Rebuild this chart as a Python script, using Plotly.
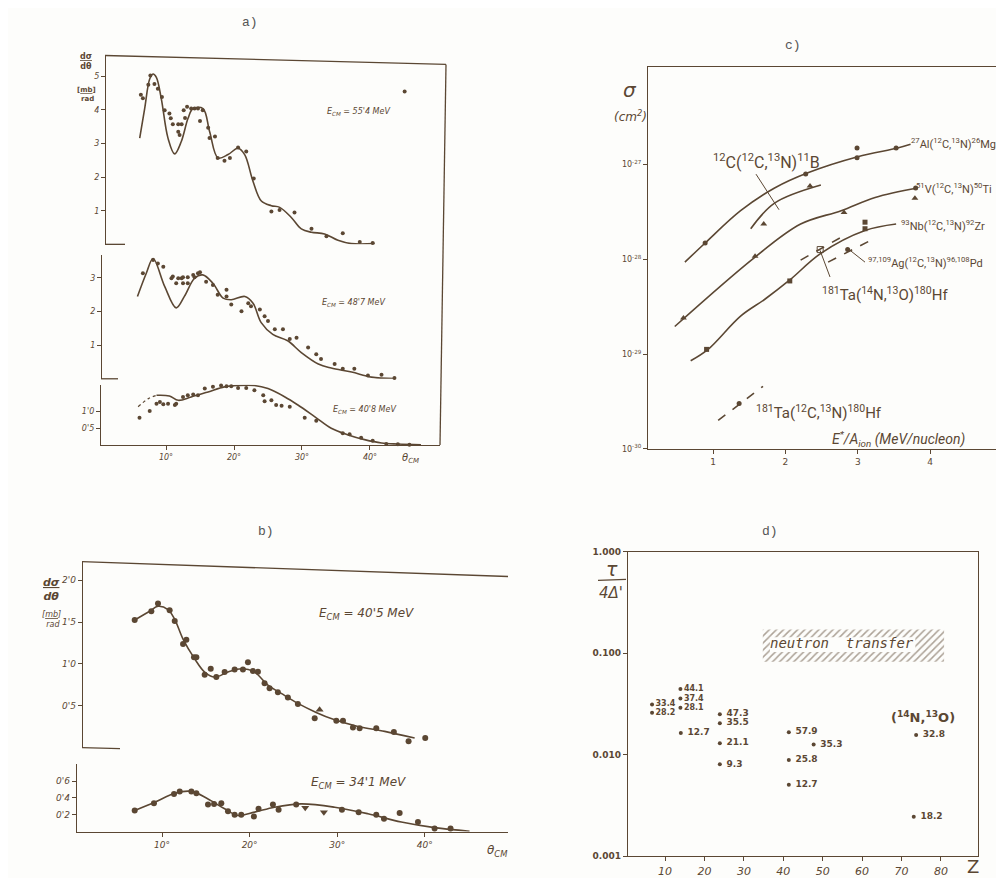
import plotly.graph_objects as go

W, H = 1004, 878
INK = "#5b4733"
BG = "#fdfdfb"
HAND = "DejaVu Sans"
NARROW = "Roboto"


def dx(a, b):
    return [a / W, b / W]


def dy(top, bottom):
    return [1 - bottom / H, 1 - top / H]


def px(x):
    return x / W


def py(y):
    return 1 - y / H


# ---------------- Panel a : dσ/dθ (mb/rad) vs θcm ----------------
a1_curve_theta = [6.13, 6.86, 7.60, 8.09, 8.58, 9.31, 10.29, 11.27, 12.25, 13.24, 13.97, 15.44, 16.42,
                  17.65, 19.12, 20.59, 21.57, 22.79, 24.02, 25.49, 26.72, 28.43, 29.90, 31.37, 33.33,
                  35.29, 37.25, 40.69]
a1_curve_val = [3.16, 4.04, 4.92, 5.07, 4.97, 4.33, 3.16, 2.69, 3.06, 3.75, 4.04, 4.04, 3.35,
                2.57, 2.67, 2.86, 2.67, 1.88, 1.29, 1.15, 1.10, 0.80, 0.46, 0.36, 0.31,
                0.12, 0.02, 0.02]
a1_pts_theta = [6.3, 6.6, 7.4, 7.7, 8.3, 8.8, 9.4, 9.8, 10.5, 10.7, 11.0, 11.8, 12.3, 11.8, 12.0, 12.6,
                12.8, 13.1, 13.7, 14.2, 14.7, 15.4, 15.0, 16.2, 16.4, 17.2, 17.6, 18.6, 19.4, 20.6,
                21.8, 22.9, 25.5, 26.7, 28.9, 31.4, 33.6, 36.0, 38.5, 40.4, 45.1]
a1_pts_val = [4.45, 4.35, 4.75, 5.02, 4.77, 4.63, 4.38, 3.99, 3.89, 3.75, 3.57, 3.57, 3.57, 3.35, 3.25, 3.99,
              3.76, 4.09, 4.04, 4.04, 4.04, 3.99, 3.67, 3.47, 3.16, 3.21, 2.57, 2.49, 2.57, 2.88,
              2.76, 1.96, 0.98, 1.02, 0.95, 0.46, 0.24, 0.33, 0.07, 0.04, 4.55]

a2_curve_theta = [5.8, 7.1, 8.1, 9.8, 11.5, 12.7, 14.2, 15.4, 16.9, 18.4, 19.6, 21.6, 22.8, 24.0,
                  25.7, 27.9, 29.9, 32.4, 34.3, 37.3, 40.2, 43.6]
a2_curve_val = [2.45, 3.14, 3.58, 2.75, 2.11, 2.45, 2.99, 3.09, 2.84, 2.40, 2.35, 2.45, 2.25, 1.67,
                1.32, 1.13, 0.78, 0.44, 0.32, 0.20, 0.05, 0.01]
a2_pts_theta = [6.6, 8.1, 8.8, 9.6, 10.8, 11.0, 11.5, 11.8, 12.3, 12.5, 12.5, 13.2, 13.2, 14.0, 14.2,
                14.7, 15.0, 15.9, 16.9, 17.6, 18.9, 18.9, 19.6, 21.1, 22.1, 22.5, 23.8, 24.5, 25.0,
                26.0, 27.2, 28.2, 29.2, 30.9, 32.1, 32.8, 34.8, 36.0, 37.7, 39.7, 41.7, 43.6]
a2_pts_val = [3.14, 3.53, 3.43, 3.33, 2.99, 3.04, 2.84, 2.99, 2.99, 3.02, 2.84, 3.02, 2.84, 3.09, 3.02,
              3.14, 3.17, 2.89, 2.79, 2.50, 2.65, 2.45, 2.21, 2.01, 2.25, 2.16, 2.06, 1.86, 1.72,
              1.47, 1.47, 1.18, 1.22, 0.93, 0.73, 0.59, 0.44, 0.30, 0.30, 0.10, 0.12, 0.02]

a3_dash_theta = [5.9, 7.4, 8.6]
a3_dash_val = [1.14, 1.38, 1.48]
a3_curve_theta = [8.6, 10.5, 11.8, 13.7, 16.2, 18.6, 20.6, 23.0, 25.0, 27.5, 29.4, 31.9, 34.3, 36.8,
                  39.2, 41.7, 44.1, 47.5]
a3_curve_val = [1.48, 1.46, 1.33, 1.43, 1.58, 1.73, 1.77, 1.77, 1.68, 1.43, 1.19, 0.84, 0.50, 0.30,
                0.16, 0.06, 0.03, 0.01]
a3_pts_theta = [6.1, 7.6, 8.6, 9.1, 9.6, 10.3, 11.3, 11.5, 12.5, 13.2, 14.0, 14.7, 15.7, 16.9, 18.1,
                18.9, 19.6, 20.6, 21.8, 23.0, 24.3, 24.5, 25.5, 26.2, 27.0, 28.2, 30.4, 32.1, 36.0,
                37.0, 38.7, 40.4, 42.4, 44.1, 45.8]
a3_pts_val = [0.81, 1.01, 1.23, 1.28, 1.21, 1.23, 1.19, 1.23, 1.43, 1.48, 1.50, 1.48, 1.68, 1.73, 1.77,
              1.75, 1.75, 1.70, 1.70, 1.63, 1.48, 1.30, 1.33, 1.19, 1.17, 1.14, 0.81, 0.72, 0.35,
              0.32, 0.22, 0.13, 0.03, 0.02, 0.01]

a_x_ticks = [10, 20, 30, 40]
a_x_labels = ["10°", "20°", "30°", "40°"]

# ---------------- Panel b ----------------
b1_curve_theta = [6.88, 8.59, 9.54, 10.68, 11.45, 12.40, 13.73, 14.87, 16.01, 17.53, 19.05, 20.57,
                  22.09, 23.61, 25.51, 27.6, 29.71, 32.37, 35.42, 38.84]
b1_curve_val = [1.524, 1.630, 1.689, 1.650, 1.532, 1.296, 1.060, 0.902, 0.843, 0.902, 0.942, 0.902,
                0.745, 0.647, 0.528, 0.42, 0.331, 0.252, 0.193, 0.114]
b1_pts_theta = [6.88, 8.78, 9.54, 10.87, 11.45, 12.40, 12.78, 13.65, 13.92, 14.87, 15.56, 16.20, 17.15,
                18.29, 19.24, 19.81, 20.38, 20.95, 21.71, 22.28, 23.23, 24.37, 25.51, 27.43, 29.90,
                30.66, 31.80, 32.56, 34.46, 36.47, 38.15, 40.05]
b1_pts_val = [1.524, 1.630, 1.721, 1.642, 1.512, 1.237, 1.288, 1.080, 1.080, 0.871, 0.942, 0.843, 0.902,
              0.934, 0.934, 1.020, 0.914, 0.906, 0.768, 0.709, 0.662, 0.599, 0.520, 0.351, 0.319,
              0.319, 0.240, 0.232, 0.232, 0.185, 0.075, 0.114]
b1_tri_theta = [27.99]
b1_tri_val = [0.453]

b2_curve_theta = [6.69, 9.16, 11.45, 13.35, 15.25, 17.15, 18.67, 20.57, 22.85, 25.89, 29.71, 33.51,
                  37.32, 41.12, 45.11]
b2_curve_val = [0.243, 0.349, 0.455, 0.478, 0.388, 0.271, 0.192, 0.231, 0.290, 0.329, 0.290, 0.212,
                0.114, 0.047, 0.004]
b2_pts_theta = [6.88, 9.08, 11.37, 12.02, 13.35, 13.92, 15.25, 15.94, 16.77, 17.53, 18.29, 19.05, 20.49,
                21.02, 22.66, 23.31, 25.32, 30.54, 32.45, 34.46, 35.34, 37.13, 39.22, 41.12, 42.94]
b2_pts_val = [0.251, 0.337, 0.447, 0.478, 0.478, 0.455, 0.322, 0.329, 0.337, 0.243, 0.200, 0.200, 0.180,
              0.271, 0.322, 0.259, 0.322, 0.259, 0.231, 0.200, 0.153, 0.220, 0.114, 0.035, 0.035]
b2_tri_theta = [26.35, 28.48]
b2_tri_val = [0.282, 0.231]

b_x_ticks = [10, 20, 30, 40]
b_x_labels = ["10°", "20°", "30°", "40°"]

# ---------------- Panel c : σ (cm²) vs E*/A ----------------
c_al_x = [0.61, 0.89, 1.38, 1.85, 2.31, 3.00, 3.55, 3.73]
c_al_y = [9.3e-29, 1.48e-28, 3.24e-28, 5.62e-28, 8.13e-28, 1.20e-27, 1.48e-27, 1.62e-27]
c_al_pts_x = [0.89, 2.28, 2.99, 2.99, 3.53]
c_al_pts_y = [1.48e-28, 7.9e-28, 1.17e-27, 1.48e-27, 1.48e-27]

c_c_x = [1.52, 1.85, 2.49]
c_c_y = [2.09e-28, 3.89e-28, 6.03e-28]
c_c_pts_x = [1.70, 2.34]
c_c_pts_y = [2.34e-28, 5.89e-28]

c_v_x = [0.47, 1.58, 2.21, 2.77, 3.24, 3.83]
c_v_y = [1.95e-29, 1.05e-28, 2.34e-28, 3.24e-28, 4.47e-28, 5.62e-28]
c_v_pts_x = [0.59, 1.58, 2.81, 3.79]
c_v_pts_y = [2.40e-29, 1.07e-28, 3.09e-28, 4.37e-28]
c_v_dot_x = [3.80]
c_v_dot_y = [5.62e-28]

c_nb_x = [0.69, 0.93, 1.38, 1.72, 2.06, 2.49, 3.10, 3.53]
c_nb_y = [8.5e-30, 1.12e-29, 2.51e-29, 3.80e-29, 6.03e-29, 1.15e-28, 2.00e-28, 2.34e-28]
c_nb_pts_x = [0.91, 2.06, 3.10, 3.10]
c_nb_pts_y = [1.12e-29, 5.89e-29, 2.09e-28, 2.45e-28]

c_ag_x = [2.59, 3.18]
c_ag_y = [9.3e-29, 1.58e-28]
c_ag_pts_x = [2.86]
c_ag_pts_y = [1.26e-28]

c_ta14_x = [2.21, 2.77]
c_ta14_y = [9.77e-29, 1.70e-28]
c_ta14_pts_x = [2.48]
c_ta14_pts_y = [1.26e-28]

c_ta12_x = [1.07, 1.69]
c_ta12_y = [2.0e-30, 4.57e-30]
c_ta12_pts_x = [1.36]
c_ta12_pts_y = [3.02e-30]

c_y_ticks = [1e-30, 1e-29, 1e-28, 1e-27]
c_y_labels = ["10<sup>-30</sup>", "10<sup>-29</sup>", "10<sup>-28</sup>", "10<sup>-27</sup>"]
c_x_ticks = [1, 2, 3, 4]

# ---------------- Panel d : τ/4Δ' vs Z ----------------
d_small_z = [6.7, 6.7, 13.9, 13.9, 13.9]
d_small_v = [0.0313, 0.0260, 0.0445, 0.0358, 0.0291]
d_small_lab = ["33.4", "28.2", "44.1", "37.4", "28.1"]
d_z = [14.0, 23.9, 23.9, 23.9, 23.9, 41.4, 41.4, 41.4, 47.7, 73.7, 73.1]
d_v = [0.0164, 0.0251, 0.0205, 0.0130, 0.00805, 0.0167, 0.00887, 0.00508, 0.0126, 0.0157, 0.00245]
d_lab = ["12.7", "47.3", "35.5", "21.1", "9.3", "57.9", "25.8", "12.7", "35.3", "32.8", "18.2"]
d_band_z = [34.8, 80.8, 80.8, 34.8, 34.8]
d_band_v = [0.0824, 0.0824, 0.172, 0.172, 0.0824]
d_box_z = [36.6, 73.5, 73.5, 36.6, 36.6]
d_box_v = [0.103, 0.103, 0.144, 0.144, 0.103]
d_x_ticks = [10, 20, 30, 40, 50, 60, 70, 80]
d_y_ticks = [0.001, 0.01, 0.1, 1.0]
d_y_labels = ["0.001", "0.010", "0.100", "1.000"]

fig = go.Figure()


def curve(x, y, xa, ya, dash="solid", spline=True, width=1.6):
    fig.add_trace(go.Scatter(x=x, y=y, xaxis=xa, yaxis=ya, mode="lines",
                             line=dict(color=INK, width=width, dash=dash,
                                       shape="spline" if spline else "linear", smoothing=1.0),
                             hoverinfo="skip", showlegend=False))


def dots(x, y, xa, ya, symbol="circle", size=5):
    fig.add_trace(go.Scatter(x=x, y=y, xaxis=xa, yaxis=ya, mode="markers",
                             marker=dict(color=INK, size=size, symbol=symbol, line=dict(width=0)),
                             cliponaxis=False, showlegend=False))


# panel a
curve(a1_curve_theta, a1_curve_val, "x", "y")
dots(a1_pts_theta, a1_pts_val, "x", "y", size=4)
curve(a2_curve_theta, a2_curve_val, "x", "y2")
dots(a2_pts_theta, a2_pts_val, "x", "y2", size=4)
curve(a3_dash_theta, a3_dash_val, "x", "y3", dash="dot", width=1.2)
curve(a3_curve_theta, a3_curve_val, "x", "y3")
dots(a3_pts_theta, a3_pts_val, "x", "y3", size=4)

# panel b
curve(b1_curve_theta, b1_curve_val, "x2", "y4")
dots(b1_pts_theta, b1_pts_val, "x2", "y4", size=6)
dots(b1_tri_theta, b1_tri_val, "x2", "y4", symbol="triangle-up", size=7)
curve(b2_curve_theta, b2_curve_val, "x2", "y5")
dots(b2_pts_theta, b2_pts_val, "x2", "y5", size=6)
dots(b2_tri_theta, b2_tri_val, "x2", "y5", symbol="triangle-down", size=7)

# panel c
curve(c_al_x, c_al_y, "x3", "y6")
dots(c_al_pts_x, c_al_pts_y, "x3", "y6")
curve(c_c_x, c_c_y, "x3", "y6")
dots(c_c_pts_x, c_c_pts_y, "x3", "y6", symbol="triangle-up", size=6)
curve(c_v_x, c_v_y, "x3", "y6")
dots(c_v_pts_x, c_v_pts_y, "x3", "y6", symbol="triangle-up", size=6)
dots(c_v_dot_x, c_v_dot_y, "x3", "y6")
curve(c_nb_x, c_nb_y, "x3", "y6")
dots(c_nb_pts_x, c_nb_pts_y, "x3", "y6", symbol="square", size=5)
curve(c_ag_x, c_ag_y, "x3", "y6", dash="dash", spline=False)
dots(c_ag_pts_x, c_ag_pts_y, "x3", "y6")
curve(c_ta14_x, c_ta14_y, "x3", "y6", dash="dash", spline=False)
dots(c_ta14_pts_x, c_ta14_pts_y, "x3", "y6", symbol="square-open", size=6)
curve(c_ta12_x, c_ta12_y, "x3", "y6", dash="dash", spline=False)
dots(c_ta12_pts_x, c_ta12_pts_y, "x3", "y6")

# panel d
fig.add_trace(go.Scatter(x=d_band_z, y=d_band_v, xaxis="x4", yaxis="y7", mode="lines",
                         fill="toself", line=dict(width=0, color=INK),
                         fillpattern=dict(shape="/", fgcolor=INK, bgcolor=BG, size=5, solidity=0.3),
                         hoverinfo="skip", showlegend=False))
fig.add_trace(go.Scatter(x=d_box_z, y=d_box_v, xaxis="x4", yaxis="y7", mode="lines",
                         fill="toself", fillcolor=BG, line=dict(width=0, color=BG),
                         hoverinfo="skip", showlegend=False))
fig.add_trace(go.Scatter(x=d_small_z, y=d_small_v, xaxis="x4", yaxis="y7", mode="markers+text",
                         text=d_small_lab, textposition="middle right",
                         textfont=dict(family=HAND, size=8, color=INK, weight="bold"),
                         marker=dict(color=INK, size=4), showlegend=False))
fig.add_trace(go.Scatter(x=d_z, y=d_v, xaxis="x4", yaxis="y7", mode="markers+text",
                         text=[" " + t for t in d_lab], textposition="middle right",
                         textfont=dict(family=HAND, size=9, color=INK, weight="bold"),
                         marker=dict(color=INK, size=4), showlegend=False))

tickfont_small = dict(family=HAND, size=8, color=INK, style="italic")
common = dict(showgrid=False, zeroline=False, showline=True, linecolor=INK, linewidth=1.3,
              ticks="outside", ticklen=4, tickwidth=1, tickcolor=INK)

fig.update_layout(
    width=W, height=H, margin=dict(l=0, r=0, t=0, b=0),
    paper_bgcolor=BG, plot_bgcolor="rgba(0,0,0,0)", showlegend=False,
    # panel a
    xaxis=dict(domain=dx(92, 432), range=[0.29, 50.3], anchor="y3", tickvals=a_x_ticks,
               ticktext=a_x_labels, tickfont=dict(family=HAND, size=8, color=INK, style="italic"), **common),
    yaxis=dict(domain=dy(43, 234), range=[0, 5.618], anchor="free", position=px(97),
               tickvals=[1, 2, 3, 4, 5], ticktext=["1", "2", "3", "4", "5"], tickfont=tickfont_small, **common),
    yaxis2=dict(domain=dy(245, 370), range=[0, 3.676], anchor="free", position=px(93),
                tickvals=[1, 2, 3], ticktext=["1", "2", "3"], tickfont=tickfont_small, **common),
    yaxis3=dict(domain=dy(376, 437), range=[0, 1.794], anchor="free", position=px(92),
                tickvals=[0.5, 1.0], ticktext=["0'5", "1'0"], tickfont=tickfont_small, **common),
    # panel b
    xaxis2=dict(domain=dx(68, 500), range=[0.18, 49.5], anchor="y5", tickvals=b_x_ticks,
                ticktext=b_x_labels, tickfont=dict(family=HAND, size=9, color=INK, style="italic"), **common),
    yaxis4=dict(domain=dy(555, 743), range=[0, 2.222], anchor="free", position=px(74),
                tickvals=[0.5, 1.0, 1.5, 2.0], ticktext=["0'5", "1'0", "1'5", "2'0"],
                tickfont=dict(family=HAND, size=9, color=INK, style="italic"), **common),
    yaxis5=dict(domain=dy(760, 828), range=[0, 0.8], anchor="free", position=px(68),
                tickvals=[0.2, 0.4, 0.6], ticktext=["0'2", "0'4", "0'6"],
                tickfont=dict(family=HAND, size=9, color=INK, style="italic"), **common),
    # panel c
    xaxis3=dict(domain=dx(640, 993), range=[0.1, 4.98], anchor="y6", tickvals=c_x_ticks,
                tickfont=dict(family=HAND, size=9, color=INK), mirror=True, **common),
    yaxis6=dict(domain=dy(55, 441), type="log", range=[-30, -25.98], anchor="x3",
                tickvals=c_y_ticks, ticktext=c_y_labels,
                tickfont=dict(family=HAND, size=8, color=INK), mirror=True, **common),
    # panel d
    xaxis4=dict(domain=dx(620, 970), range=[0.6, 89.4], anchor="y7", tickvals=d_x_ticks,
                tickfont=dict(family=HAND, size=11, color=INK, style="italic"), mirror=True, **common),
    yaxis7=dict(domain=dy(545, 853), type="log", range=[-3, 0], anchor="x4",
                tickvals=d_y_ticks, ticktext=d_y_labels,
                tickfont=dict(family=HAND, size=9, color=INK, weight="bold"), mirror=True, **common),
)

ann = []


def text(x, y, s, size=12, family=HAND, color=INK, xanchor="center", style="normal", weight="normal"):
    ann.append(dict(x=px(x), y=py(y), xref="paper", yref="paper", text=s, showarrow=False,
                    xanchor=xanchor, yanchor="middle",
                    font=dict(family=family, size=size, color=color, style=style, weight=weight)))


MONO = "Liberation Mono"
text(242, 10, "a)", 13, MONO, "#555")
text(785, 33, "c)", 13, MONO, "#555")
text(258, 524, "b)", 13, MONO, "#555")
text(762, 524, "d)", 13, MONO, "#555")

# panel a texts
text(78, 49, "<u>dσ</u><br>dθ", 8, weight="bold")
text(78, 82, "[<u>mb</u>]<br> rad", 7, weight="bold")
text(350, 100, "E<sub>CM</sub> = 55'4 MeV", 8, style="italic")
text(345, 293, "E<sub>CM</sub> = 48'7 MeV", 8, style="italic")
text(356, 402, "E<sub>CM</sub> = 40'8 MeV", 8, style="italic")
text(402, 451, "θ<sub>CM</sub>", 10, style="italic")

# panel b texts
text(43, 583, "<u>dσ</u><br>dθ", 11, style="italic", weight="bold")
text(43, 613, "[<u>mb</u>]<br> rad", 8, style="italic")
text(358, 608, "E<sub>CM</sub> = 40'5 MeV", 12, style="italic")
text(350, 779, "E<sub>CM</sub> = 34'1 MeV", 12, style="italic")
text(489, 848, "θ<sub>CM</sub>", 12, style="italic")

# panel c texts
text(622, 78, "σ", 20, style="italic")
text(622, 104, "(cm<sup>2</sup>)", 12, style="italic")
text(703, 150, "<sup>12</sup>C(<sup>12</sup>C,<sup>13</sup>N)<sup>11</sup>B", 16, NARROW, xanchor="left")
text(901, 132, "<sup>27</sup>Al(<sup>12</sup>C,<sup>13</sup>N)<sup>26</sup>Mg", 11, NARROW, xanchor="left")
text(906, 178, "<sup>51</sup>V(<sup>12</sup>C,<sup>13</sup>N)<sup>50</sup>Ti", 11, NARROW, xanchor="left")
text(891, 215, "<sup>93</sup>Nb(<sup>12</sup>C,<sup>13</sup>N)<sup>92</sup>Zr", 11, NARROW, xanchor="left")
text(858, 252, "<sup>97,109</sup>Ag(<sup>12</sup>C,<sup>13</sup>N)<sup>96,108</sup>Pd", 11, NARROW, xanchor="left")
text(812, 284, "<sup>181</sup>Ta(<sup>14</sup>N,<sup>13</sup>O)<sup>180</sup>Hf", 15, NARROW, xanchor="left")
text(746, 404, "<sup>181</sup>Ta(<sup>12</sup>C,<sup>13</sup>N)<sup>180</sup>Hf", 15, NARROW, xanchor="left")
text(822, 431, "E<sup>*</sup>/A<sub>ion</sub> (MeV/nucleon)", 14, NARROW, xanchor="left", style="italic")

# panel d texts
text(834, 637, "neutron  transfer", 14, "DejaVu Sans Mono", style="italic")
text(915, 712, "(<sup>14</sup>N,<sup>13</sup>O)", 13, weight="bold")
text(604, 562, "τ", 19, style="italic")
text(603, 587, "4Δ'", 15, style="italic")
text(965, 863, "Z", 18)

fig.update_layout(annotations=ann)

shapes = []


def seg(x0, y0, x1, y1, w=1.3, dash="solid"):
    shapes.append(dict(type="line", xref="paper", yref="paper", x0=px(x0), y0=py(y0), x1=px(x1), y1=py(y1),
                       line=dict(color=INK, width=w, dash=dash)))


# panel a frame
seg(97, 43, 438, 52)
seg(438, 52, 432, 437)
seg(97, 234, 117, 234)
seg(93, 370, 110, 370)
# panel b frame
seg(74, 555, 500, 570)
seg(74, 743, 112, 744)
# panel c leader lines
seg(748, 163, 771, 199, 1)
seg(857, 252, 842, 240, 1)
seg(822, 267, 812, 240, 1)
# panel d fraction line
seg(590, 574, 618, 573, 1.3)

fig.update_layout(shapes=shapes)
fig.write_html("out.html")
